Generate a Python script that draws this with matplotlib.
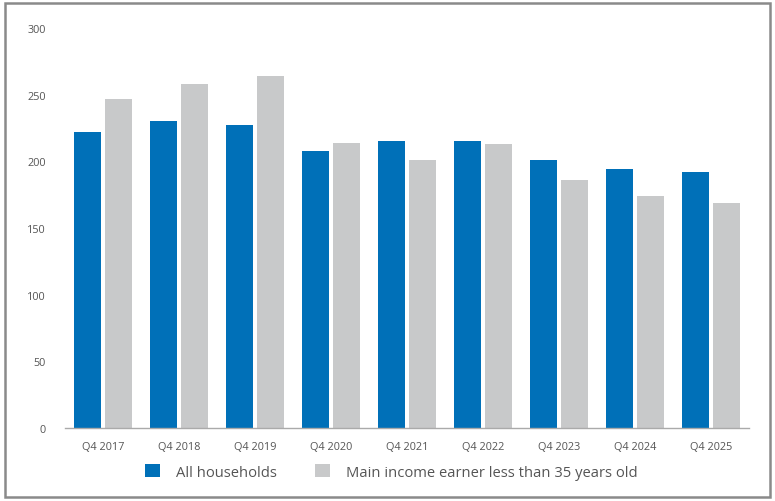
import matplotlib.pyplot as plt
import numpy as np
from matplotlib.patches import Rectangle

plt.rcParams['font.family'] = ['Open Sans', 'DejaVu Sans']

quarters = ["Q4 2017", "Q4 2018", "Q4 2019", "Q4 2020", "Q4 2021",
            "Q4 2022", "Q4 2023", "Q4 2024", "Q4 2025"]
all_households = [222, 230, 227, 208, 215, 215, 201, 194, 192]
under_35 = [247, 258, 264, 214, 201, 213, 186, 174, 169]
y_ticks = [0, 50, 100, 150, 200, 250, 300]

blue = '#0070B8'
grey = '#C8C9CA'
txt = '#555555'

fig = plt.figure(figsize=(7.75, 5.02), dpi=100)
ax = fig.add_axes([0.0839, 0.1454, 0.8826, 0.7968])

x = np.arange(len(quarters))
w = 0.355
ax.bar(x - 0.205, all_households, w, color=blue, label='All households')
ax.bar(x + 0.205, under_35, w, color=grey, label='Main income earner less than 35 years old')

ax.set_xlim(-0.5, len(quarters) - 0.5)
ax.set_ylim(0, 300)
ax.set_yticks(y_ticks)
ax.set_xticks(x)
ax.set_xticklabels(quarters)
ax.tick_params(axis='both', length=0, labelsize=7.8, colors=txt)
ax.tick_params(axis='y', pad=14)
ax.tick_params(axis='x', pad=9)
for s in ['top', 'right', 'left']:
    ax.spines[s].set_visible(False)
ax.spines['bottom'].set_color('#AAAAAA')
ax.spines['bottom'].set_linewidth(1)

leg = fig.legend(loc='center', bbox_to_anchor=(0.505, 0.058), ncol=2, frameon=False,
                 handlelength=1.0, handleheight=1.0, handletextpad=1.1,
                 columnspacing=2.6, fontsize=10.6)
for t in leg.get_texts():
    t.set_color(txt)

# outer frame
fig.patches.append(Rectangle((0.006, 0.008), 0.988, 0.984, transform=fig.transFigure,
                             fill=False, edgecolor='#8A8A8A', linewidth=1.8))

fig.savefig('out.png', dpi=100)
